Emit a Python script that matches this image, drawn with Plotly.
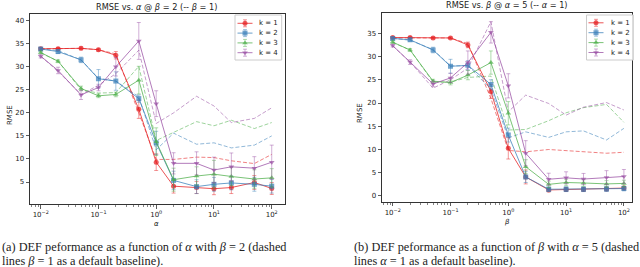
import plotly.graph_objects as go

x_vals = [0.01, 0.02, 0.05, 0.1, 0.2, 0.5, 1, 2, 5, 10, 20, 50, 100]
k_labels = ["k = 1", "k = 2", "k = 3", "k = 4"]

# Left panel: RMSE vs alpha @ beta = 2 (solid) and beta = 1 (dashed)
left_solid = [
    [33.9, 33.9, 34.0, 33.7, 32.5, 20.8, 9.3, 4.1, 3.8, 3.55, 3.8, 4.9, 3.6],
    [33.85, 33.3, 31.5, 27.4, 26.9, 23.1, 13.5, 5.35, 4.0, 4.5, 4.8, 4.5, 4.1],
    [33.1, 31.2, 25.3, 23.7, 24.0, 27.1, 13.75, 5.5, 6.3, 6.7, 6.2, 5.65, 5.9],
    [32.3, 29.2, 23.9, 25.5, 30.0, 35.6, 22.0, 9.05, 9.05, 7.6, 8.3, 8.0, 9.3],
]
left_err = [
    [0.3, 0.3, 0.3, 0.3, 0.8, 2.0, 1.8, 1.5, 1.3, 1.3, 1.3, 1.5, 1.3],
    [0.3, 0.4, 0.6, 2.0, 2.0, 0.8, 2.5, 2.0, 1.5, 1.5, 1.5, 1.5, 1.5],
    [0.3, 0.3, 0.5, 0.4, 0.5, 3.0, 3.0, 2.5, 2.0, 3.0, 2.0, 2.0, 2.0],
    [0.4, 0.7, 1.0, 0.7, 2.0, 4.0, 2.8, 2.3, 2.5, 2.8, 3.0, 2.5, 3.7],
]
left_dashed = [
    [33.9, 34.0, 34.0, 33.7, 32.8, 20.0, 9.9, 9.9, 10.4, 10.3, 9.6, 9.0, 11.0],
    [33.9, 33.5, 31.5, 27.5, 26.9, 23.5, 12.0, 15.6, 13.2, 13.5, 12.4, 13.0, 15.0],
    [33.0, 31.2, 25.0, 24.3, 24.4, 30.1, 14.0, 15.7, 18.1, 17.2, 18.4, 16.6, 17.9],
    [32.3, 29.0, 24.0, 26.0, 28.5, 33.6, 17.7, 20.0, 23.6, 21.5, 17.9, 18.8, 21.1],
]

# Right panel: RMSE vs beta @ alpha = 5 (solid) and alpha = 1 (dashed)
right_solid = [
    [34.1, 34.1, 34.0, 34.0, 32.5, 22.5, 10.25, 4.1, 1.3, 1.4, 1.4, 1.5, 1.7],
    [33.9, 33.6, 31.4, 27.9, 28.1, 24.0, 13.1, 4.1, 1.45, 1.45, 1.45, 1.5, 1.6],
    [33.1, 31.4, 24.7, 24.4, 26.0, 28.7, 17.8, 6.3, 2.5, 2.9, 2.8, 2.6, 2.7],
    [32.35, 28.8, 24.1, 25.4, 28.7, 35.2, 23.7, 9.2, 3.6, 3.9, 3.65, 3.95, 4.2],
]
right_err = [
    [0.2, 0.2, 0.2, 0.2, 0.6, 1.5, 2.3, 1.5, 0.4, 0.4, 0.4, 0.4, 0.4],
    [0.2, 0.3, 0.6, 1.5, 1.0, 1.0, 1.5, 1.2, 0.5, 0.5, 0.5, 0.5, 0.5],
    [0.3, 0.3, 0.4, 0.5, 1.0, 2.5, 2.5, 1.5, 0.7, 0.7, 0.7, 0.7, 0.7],
    [0.3, 0.5, 0.6, 1.0, 2.5, 2.3, 2.6, 2.7, 1.3, 1.3, 1.2, 1.5, 1.5],
]
right_dashed = [
    [34.0, 34.0, 34.0, 34.0, 32.8, 21.0, 9.8, 9.5, 10.0, 9.75, 9.5, 9.2, 9.4],
    [33.9, 33.5, 31.5, 28.0, 28.0, 23.0, 12.5, 13.8, 12.6, 13.8, 14.0, 12.05, 14.55],
    [33.0, 31.4, 24.5, 24.5, 25.5, 25.8, 14.2, 14.3, 16.2, 17.9, 19.0, 19.7, 15.85],
    [32.3, 28.8, 23.2, 25.0, 27.5, 37.5, 18.1, 21.7, 19.9, 17.4, 19.1, 20.1, 18.5],
]

colors = [(228, 26, 28), (55, 126, 184), (77, 175, 74), (152, 78, 163)]
symbols = ["circle", "square", "triangle-up", "triangle-down"]

def rgba(c, a):
    return f"rgba({c[0]},{c[1]},{c[2]},{a})"

W, H = 640, 267
FONT = "DejaVu Sans"
SERIF = "Liberation Serif"

fig = go.Figure()

panels = [
    ("x", "y", left_solid, left_err, left_dashed),
    ("x2", "y2", right_solid, right_err, right_dashed),
]
for xa, ya, solid, err, dashed in panels:
    for i in range(4):
        c = colors[i]
        fig.add_trace(go.Scatter(
            x=x_vals, y=dashed[i], xaxis=xa, yaxis=ya, mode="lines",
            line=dict(color=rgba(c, 0.55), width=1, dash="4px,2px"),
            showlegend=False, hoverinfo="skip"))
    for i in range(4):
        c = colors[i]
        fig.add_trace(go.Scatter(
            x=x_vals, y=solid[i], xaxis=xa, yaxis=ya, mode="lines+markers",
            name=k_labels[i], showlegend=False,
            line=dict(color=rgba(c, 0.75), width=1),
            marker=dict(symbol=symbols[i], size=5, color=rgba(c, 0.7),
                        line=dict(width=0)),
            error_y=dict(type="data", array=err[i], visible=True,
                         color=rgba(c, 0.45), thickness=1, width=2)))

# ---- hand-made matplotlib-style legends on a pixel-space overlay axis ----
ann = []
def A(text, xpx, ypx, size=8, family=FONT, xanchor="center", angle=0):
    ann.append(dict(text=text, x=xpx / W, y=1 - ypx / H, xref="paper", yref="paper",
                    showarrow=False, xanchor=xanchor, yanchor="middle", textangle=angle,
                    font=dict(family=family, size=size, color="#222")))

legend_boxes = [
    # (left, right, top, bottom, handle_x0, handle_x1, text_x, row_y0, row_step)
    (235, 281.7, 15, 60, 237.5, 252.5, 256.5, 23.3, 9.8),
    (586.5, 633.3, 15, 60, 588.5, 603.5, 608.5, 22.8, 9.9),
]
for (l, r, t, b, hx0, hx1, tx, ry0, rs) in legend_boxes:
    fig.add_trace(go.Scatter(
        x=[l, r, r, l, l], y=[t, t, b, b, t], xaxis="x3", yaxis="y3", mode="lines",
        fill="toself", fillcolor="rgba(255,255,255,0.85)",
        line=dict(color="#cccccc", width=1), showlegend=False, hoverinfo="skip"))
    for i in range(4):
        c = colors[i]
        yy = ry0 + rs * i
        fig.add_trace(go.Scatter(
            x=[hx0, hx1], y=[yy, yy], xaxis="x3", yaxis="y3", mode="lines",
            line=dict(color=rgba(c, 0.75), width=1), showlegend=False, hoverinfo="skip"))
        fig.add_trace(go.Scatter(
            x=[(hx0 + hx1) / 2], y=[yy], xaxis="x3", yaxis="y3", mode="markers",
            marker=dict(symbol=symbols[i], size=5, color=rgba(c, 0.7), line=dict(width=0)),
            error_y=dict(type="constant", value=3.5, color=rgba(c, 0.45), thickness=1, width=2),
            showlegend=False, hoverinfo="skip"))
        A(k_labels[i], tx, yy, size=7, xanchor="left")

def minor_vals():
    v = []
    for e in range(-3, 3):
        for m in range(2, 10):
            v.append(m * 10 ** e)
    return v

tick_x = [0.01, 0.1, 1, 10, 100]
tick_x_txt = ["10<sup>−2</sup>", "10<sup>−1</sup>", "10<sup>0</sup>", "10<sup>1</sup>", "10<sup>2</sup>"]

axis_common = dict(showline=True, linecolor="#333", linewidth=1, mirror=True,
                   ticks="outside", ticklen=3.5, tickwidth=0.8, tickcolor="#333",
                   showgrid=False, zeroline=False,
                   tickfont=dict(family=FONT, size=7, color="#222"))

xaxis_common = dict(axis_common, type="log", tickmode="array", tickvals=tick_x,
                    ticktext=tick_x_txt,
                    minor=dict(ticks="outside", ticklen=2, tickwidth=0.6,
                               tickcolor="#333", tickmode="array", tickvals=minor_vals()))

fig.update_layout(
    width=W, height=H, margin=dict(l=0, r=0, t=0, b=0),
    paper_bgcolor="white", plot_bgcolor="rgba(0,0,0,0)",
    font=dict(family=FONT, size=7, color="#222"),
    showlegend=False, hovermode=False, dragmode=False,
    xaxis=dict(xaxis_common, domain=[30 / W, 285 / W], range=[-2.185, 2.23], anchor="y"),
    yaxis=dict(axis_common, domain=[(H - 204) / H, (H - 14) / H], range=[0.23, 41.45],
               tickvals=[5, 10, 15, 20, 25, 30, 35, 40], anchor="x"),
    xaxis2=dict(xaxis_common, domain=[382 / W, 631.7 / W], range=[-2.185, 2.135], anchor="y2"),
    yaxis2=dict(axis_common, domain=[(H - 201.7) / H, (H - 13.3) / H], range=[-1.23, 39.3],
                tickvals=[0, 5, 10, 15, 20, 25, 30, 35], anchor="x2"),
    xaxis3=dict(domain=[0, 1], range=[0, W], visible=False, fixedrange=True, anchor="y3"),
    yaxis3=dict(domain=[0, 1], range=[H, 0], visible=False, fixedrange=True, anchor="x3"),
)

A("RMSE vs. <i>α</i> @ <i>β</i> = 2 (-- <i>β</i> = 1)", 156, 7, size=8.2)
A("RMSE vs. <i>β</i> @ <i>α</i> = 5 (-- <i>α</i> = 1)", 507, 5, size=8.2)
A("<i>α</i>", 156, 224, size=7)
A("<i>β</i>", 507, 222, size=7)
A("RMSE", 10, 115, size=7, angle=-90)
A("RMSE", 360, 113, size=7, angle=-90)
A("(a) DEF peformance as a function of <i>α</i> with <i>β</i> = 2 (dashed", 0, 247, size=12.3, family=SERIF, xanchor="left")
A("lines <i>β</i> = 1 as a default baseline).", 0, 261, size=12.3, family=SERIF, xanchor="left")
A("(b) DEF peformance as a function of <i>β</i> with <i>α</i> = 5 (dashed", 352, 247, size=12.3, family=SERIF, xanchor="left")
A("lines <i>α</i> = 1 as a default baseline).", 352, 261, size=12.3, family=SERIF, xanchor="left")
fig.update_layout(annotations=ann)

fig.write_html("out.html", config={"displayModeBar": False, "staticPlot": True},
               post_script="document.body.style.margin='0';document.body.style.padding='0';")
